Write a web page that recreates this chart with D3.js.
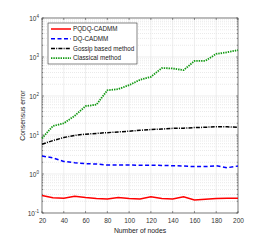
<!DOCTYPE html>
<html>
<head>
<meta charset="utf-8">
<script src="https://cdn.jsdelivr.net/npm/d3@7"></script>
<style>
  body { margin: 0; background: #fff; }
  svg { font-family: "Liberation Sans", Arial, sans-serif; }
</style>
</head>
<body>
<div id="chart"></div>
<script>
// data
const nodes = [20, 30, 40, 50, 60, 70, 80, 90, 100, 110, 120, 130, 140, 150, 160, 170, 180, 190, 200];
const pqdq = [0.28, 0.245, 0.238, 0.27, 0.248, 0.235, 0.228, 0.25, 0.235, 0.228, 0.262, 0.235, 0.228, 0.262, 0.215, 0.225, 0.235, 0.238, 0.238];
const dq = [2.9, 2.6, 2.1, 1.95, 1.85, 1.8, 1.7, 1.7, 1.7, 1.68, 1.68, 1.66, 1.63, 1.6, 1.55, 1.55, 1.63, 1.45, 1.6];
const gossip = [5.8, 7.2, 8.6, 9.8, 10.5, 11, 11.5, 12, 12.5, 13.2, 13.8, 14.2, 14.8, 15, 15.5, 15.8, 16.3, 16.2, 15.8];
const classical = [8.2, 17, 20, 31, 55, 60, 140, 150, 190, 260, 310, 520, 510, 460, 790, 800, 1200, 1320, 1500];
const xTicks = [20, 40, 60, 80, 100, 120, 140, 160, 180, 200];
const yExps = [-1, 0, 1, 2, 3, 4];

const series = [
  { name: "PQDQ-CADMM", values: pqdq, color: "#ff0000", dash: null, width: 1.5 },
  { name: "DQ-CADMM", values: dq, color: "#0000ff", dash: "4,2.5", width: 1.5 },
  { name: "Gossip based method", values: gossip, color: "#000000", dash: "4,1.2,1,1.2", width: 1.5 },
  { name: "Classical method", values: classical, color: "#119911", dash: "1.4,1", width: 1.8 }
];

const W = 270, H = 240;
const m = { left: 42, right: 32, top: 18, bottom: 27 };

const svg = d3.select("#chart").append("svg")
    .attr("width", W)
    .attr("height", H);

const x = d3.scaleLinear().domain([20, 200]).range([m.left, W - m.right]);
const y = d3.scaleLog().domain([0.1, 10000]).range([H - m.bottom, m.top]);

// grid: minor dotted, major solid
const minor = [];
yExps.slice(0, -1).forEach(e => {
  for (let k = 2; k <= 9; k++) minor.push(k * Math.pow(10, e));
});

svg.append("g").selectAll("line")
  .data(minor)
  .join("line")
    .attr("x1", m.left).attr("x2", W - m.right)
    .attr("y1", d => y(d)).attr("y2", d => y(d))
    .attr("stroke", "#d4d4d4")
    .attr("stroke-width", 0.5)
    .attr("stroke-dasharray", "1,1");

svg.append("g").selectAll("line")
  .data(yExps.map(e => Math.pow(10, e)))
  .join("line")
    .attr("x1", m.left).attr("x2", W - m.right)
    .attr("y1", d => y(d)).attr("y2", d => y(d))
    .attr("stroke", "#e3e3e3")
    .attr("stroke-width", 0.6);

svg.append("g").selectAll("line")
  .data(xTicks)
  .join("line")
    .attr("x1", d => x(d)).attr("x2", d => x(d))
    .attr("y1", m.top).attr("y2", H - m.bottom)
    .attr("stroke", "#e3e3e3")
    .attr("stroke-width", 0.6);

// axes
const xAxis = d3.axisBottom(x).tickValues(xTicks).tickSize(0).tickPadding(5);
const gx = svg.append("g")
    .attr("transform", `translate(0,${H - m.bottom})`)
    .call(xAxis);
gx.select(".domain").remove();
gx.selectAll("text").attr("font-size", 6.5).attr("fill", "#333");

// inner ticks on all four sides
const tickLen = 2;
const tk = svg.append("g").attr("stroke", "#333").attr("stroke-width", 0.5);
xTicks.forEach(t => {
  tk.append("line").attr("x1", x(t)).attr("x2", x(t)).attr("y1", H - m.bottom).attr("y2", H - m.bottom - tickLen);
  tk.append("line").attr("x1", x(t)).attr("x2", x(t)).attr("y1", m.top).attr("y2", m.top + tickLen);
});
minor.concat(yExps.map(e => Math.pow(10, e))).forEach(v => {
  const len = minor.includes(v) ? 1.2 : tickLen;
  tk.append("line").attr("x1", m.left).attr("x2", m.left + len).attr("y1", y(v)).attr("y2", y(v));
  tk.append("line").attr("x1", W - m.right).attr("x2", W - m.right - len).attr("y1", y(v)).attr("y2", y(v));
});

// y tick labels as 10^n
const yl = svg.append("g").attr("font-size", 6.5).attr("fill", "#333");
yExps.forEach(e => {
  const t = yl.append("text")
      .attr("x", m.left - 3)
      .attr("y", y(Math.pow(10, e)) + 2.5)
      .attr("text-anchor", "end");
  t.append("tspan").text("10");
  t.append("tspan").attr("font-size", 4.5).attr("dy", -3).text(e);
});

// box
svg.append("rect")
    .attr("x", m.left).attr("y", m.top)
    .attr("width", W - m.left - m.right)
    .attr("height", H - m.top - m.bottom)
    .attr("fill", "none")
    .attr("stroke", "#333")
    .attr("stroke-width", 0.6);

// lines
const line = vals => d3.line()
    .x((d, i) => x(nodes[i]))
    .y(d => y(d))(vals);

svg.append("g").selectAll("path")
  .data(series)
  .join("path")
    .attr("d", d => line(d.values))
    .attr("fill", "none")
    .attr("stroke", d => d.color)
    .attr("stroke-width", d => d.width)
    .attr("stroke-dasharray", d => d.dash);

// legend
const lg = svg.append("g").attr("transform", "translate(48,23)");
lg.append("rect")
    .attr("width", 89).attr("height", 41)
    .attr("fill", "#fff")
    .attr("stroke", "#333")
    .attr("stroke-width", 0.6);
series.forEach((s, i) => {
  const yy = 6 + i * 9.7;
  lg.append("line")
      .attr("x1", 3).attr("x2", 23)
      .attr("y1", yy).attr("y2", yy)
      .attr("stroke", s.color)
      .attr("stroke-width", s.width)
      .attr("stroke-dasharray", s.dash);
  lg.append("text")
      .attr("x", 25).attr("y", yy + 2.3)
      .attr("font-size", 6.3)
      .attr("fill", "#222")
      .text(s.name);
});

// axis titles
svg.append("text")
    .attr("x", (m.left + W - m.right) / 2)
    .attr("y", 233)
    .attr("text-anchor", "middle")
    .attr("font-size", 6.8)
    .attr("fill", "#222")
    .text("Number of nodes");

svg.append("text")
    .attr("transform", `translate(25,${(m.top + H - m.bottom) / 2}) rotate(-90)`)
    .attr("text-anchor", "middle")
    .attr("font-size", 6.8)
    .attr("fill", "#222")
    .text("Consensus error");
</script>
</body>
</html>
